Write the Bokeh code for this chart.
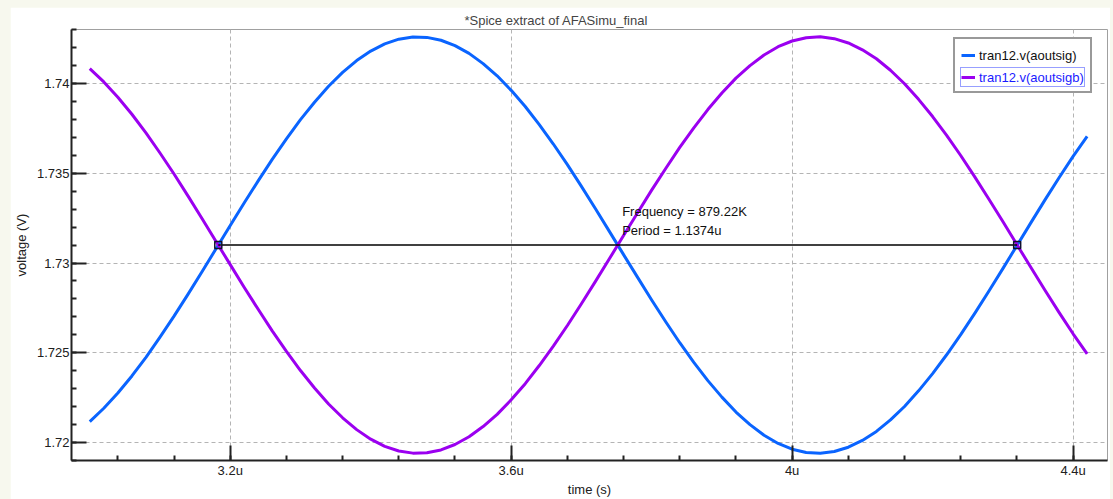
from bokeh.plotting import figure
from bokeh.models import ColumnDataSource, FixedTicker, Legend, LegendItem, Label, Range1d
from bokeh.layouts import column
from bokeh.embed import file_html
from bokeh.resources import INLINE

# ---------------- data ----------------
time_us = [3.00, 3.02, 3.04, 3.06, 3.08, 3.10, 3.12, 3.14, 3.16, 3.18,
           3.20, 3.22, 3.24, 3.26, 3.28, 3.30, 3.32, 3.34, 3.36, 3.38,
           3.40, 3.42, 3.44, 3.46, 3.48, 3.50, 3.52, 3.54, 3.56, 3.58,
           3.60, 3.62, 3.64, 3.66, 3.68, 3.70, 3.72, 3.74, 3.76, 3.78,
           3.80, 3.82, 3.84, 3.86, 3.88, 3.90, 3.92, 3.94, 3.96, 3.98,
           4.00, 4.02, 4.04, 4.06, 4.08, 4.10, 4.12, 4.14, 4.16, 4.18,
           4.20, 4.22, 4.24, 4.26, 4.28, 4.30, 4.32, 4.34, 4.36, 4.38,
           4.40, 4.42]
v_aoutsig = [1.72117, 1.72191, 1.72276, 1.72371, 1.72475, 1.72587, 1.72704, 1.72827, 1.72953, 1.73081,
             1.73209, 1.73336, 1.73459, 1.73579, 1.73692, 1.73799, 1.73896, 1.73985, 1.74062, 1.74128,
             1.74181, 1.74221, 1.74247, 1.74259, 1.74257, 1.74241, 1.74211, 1.74168, 1.74111, 1.74043,
             1.73962, 1.73872, 1.73771, 1.73663, 1.73548, 1.73427, 1.73302, 1.73175, 1.73047, 1.72920,
             1.72794, 1.72673, 1.72556, 1.72447, 1.72345, 1.72253, 1.72170, 1.72100, 1.72041, 1.71995,
             1.71963, 1.71945, 1.71940, 1.71950, 1.71974, 1.72012, 1.72062, 1.72126, 1.72201, 1.72288,
             1.72384, 1.72489, 1.72601, 1.72720, 1.72843, 1.72969, 1.73097, 1.73225, 1.73352, 1.73475,
             1.73594, 1.73706]
v_aoutsigb = [1.74083, 1.74009, 1.73924, 1.73829, 1.73725, 1.73613, 1.73496, 1.73373, 1.73247, 1.73119,
              1.72991, 1.72864, 1.72741, 1.72621, 1.72508, 1.72401, 1.72304, 1.72215, 1.72138, 1.72072,
              1.72019, 1.71979, 1.71953, 1.71941, 1.71943, 1.71959, 1.71989, 1.72032, 1.72089, 1.72157,
              1.72238, 1.72328, 1.72429, 1.72537, 1.72652, 1.72773, 1.72898, 1.73025, 1.73153, 1.73280,
              1.73406, 1.73527, 1.73644, 1.73753, 1.73855, 1.73947, 1.74030, 1.74100, 1.74159, 1.74205,
              1.74237, 1.74255, 1.74260, 1.74250, 1.74226, 1.74188, 1.74138, 1.74074, 1.73999, 1.73912,
              1.73816, 1.73711, 1.73599, 1.73480, 1.73357, 1.73231, 1.73103, 1.72975, 1.72848, 1.72725,
              1.72606, 1.72494]
series_names = ["tran12.v(aoutsig)", "tran12.v(aoutsigb)"]

meas_t = [3.1830, 4.3204]
meas_v = [1.7310, 1.7310]
meas_text = ["Frequency = 879.22K", "Period = 1.1374u"]

x_ticks = [3.2, 3.6, 4.0, 4.4]
x_tick_labels = ["3.2u", "3.6u", "4u", "4.4u"]
y_ticks = [1.72, 1.725, 1.73, 1.735, 1.74]
y_tick_labels = ["1.72", "1.725", "1.73", "1.735", "1.74"]

title_text = "*Spice extract of AFASimu_final"
x_label = "time (s)"
y_label = "voltage (V)"

# ---------------- styling ----------------
BLUE = "#0a64ff"
PURPLE = "#9b00f0"
FONT = "Liberation Sans"
FS = "13px"
BEIGE = "#f7f8ee"

src = ColumnDataSource(dict(t=time_us, a=v_aoutsig, b=v_aoutsigb))

p = figure(width=1100, height=492,
           x_range=Range1d(2.974, 4.449), y_range=Range1d(1.71900, 1.74301),
           output_backend="svg", toolbar_location=None, title=title_text,
           min_border_left=60, min_border_right=3, min_border_top=22, min_border_bottom=39,
           border_fill_color="white", background_fill_color="white",
           outline_line_color="#a0a0a0", outline_line_width=1)
p.margin = (7, 3, 0, 10)

p.title.text_font = FONT
p.title.text_font_size = FS
p.title.text_font_style = "normal"
p.title.align = "left"
p.title.offset = 393
p.title.standoff = 3

# axes
minor_x = [round(3.2 - 0.08 * 2 + 0.08 * i, 3) for i in range(0, 19)]
minor_y = [round(1.719 + 0.001 * i, 4) for i in range(0, 25)]
p.xaxis.ticker = FixedTicker(ticks=x_ticks, minor_ticks=minor_x)
p.yaxis.ticker = FixedTicker(ticks=y_ticks, minor_ticks=minor_y)
p.xaxis.major_label_overrides = dict(zip(x_ticks, x_tick_labels))
p.yaxis.major_label_overrides = dict(zip(y_ticks, y_tick_labels))
p.xaxis.axis_label = x_label
p.yaxis.axis_label = y_label
for ax in (p.xaxis, p.yaxis):
    ax.axis_line_color = "#222222"
    ax.axis_line_width = 2
    ax.major_tick_line_color = "#222222"
    ax.major_tick_line_width = 2
    ax.minor_tick_line_color = "#222222"
    ax.minor_tick_line_width = 2
    ax.major_tick_in = 15
    ax.major_tick_out = 0
    ax.minor_tick_in = 5
    ax.minor_tick_out = 0
    ax.major_label_text_font = FONT
    ax.major_label_text_font_size = FS
    ax.major_label_text_color = "#202020"
    ax.axis_label_text_font = FONT
    ax.axis_label_text_font_size = FS
    ax.axis_label_text_font_style = "normal"
    ax.axis_label_text_color = "#202020"
p.xaxis.major_label_standoff = 2
p.xaxis.axis_label_standoff = 1
p.yaxis.major_label_standoff = 2
p.yaxis.axis_label_standoff = 5

for g in (p.xgrid, p.ygrid):
    g.grid_line_color = "#b4b4b4"
    g.grid_line_dash = "4 3"
    g.grid_line_width = 1

# curves
r_a = p.line("t", "a", source=src, line_color=BLUE, line_width=3, line_join="round")
r_b = p.line("t", "b", source=src, line_color=PURPLE, line_width=3, line_join="round")
mk_a = p.scatter(x=[], y=[], marker="square", size=6, fill_color=BLUE, line_color=BLUE)
mk_b = p.scatter(x=[], y=[], marker="cross", size=11, line_color=PURPLE, line_width=2)

# measurement
p.line(meas_t, meas_v, line_color="black", line_width=1.5)
p.scatter(meas_t, meas_v, marker="square", size=7, fill_color=None,
          line_color="#101030", line_width=1.5)
p.add_layout(Label(x=3.758, y=1.73286, text=meas_text[0], text_font=FONT,
                   text_font_size=FS, text_baseline="middle", text_color="#101010"))
p.add_layout(Label(x=3.758, y=1.73183, text=meas_text[1], text_font=FONT,
                   text_font_size=FS, text_baseline="middle", text_color="#101010"))

# legend
leg1 = Legend(items=[LegendItem(label=series_names[0], renderers=[r_a, mk_a]),
                     LegendItem(label=series_names[1], renderers=[r_b, mk_b])],
              location=(882, 367), margin=0, padding=6, spacing=0,
              label_height=20, glyph_height=14, glyph_width=14, label_standoff=4,
              label_text_font=FONT, label_text_font_size=FS, label_text_color="#101010",
              label_text_line_height=1.0,
              border_line_color="#333333", border_line_width=2,
              background_fill_color="white", background_fill_alpha=1)
p.add_layout(leg1)
leg2 = Legend(items=[LegendItem(label=series_names[1], renderers=[r_b, mk_b])],
              location=(889, 373), margin=0, padding=0, spacing=0,
              label_height=18, glyph_height=14, glyph_width=14, label_standoff=4,
              label_text_font=FONT, label_text_font_size=FS, label_text_color="#1a1aff",
              label_text_line_height=1.0,
              border_line_color="#3040ff", border_line_width=1,
              background_fill_color="white", background_fill_alpha=1)
p.add_layout(leg2)

layout = column(p, width=1113, height=499, styles={"background-color": BEIGE})

open("out.html", "w").write(file_html(layout, INLINE))
